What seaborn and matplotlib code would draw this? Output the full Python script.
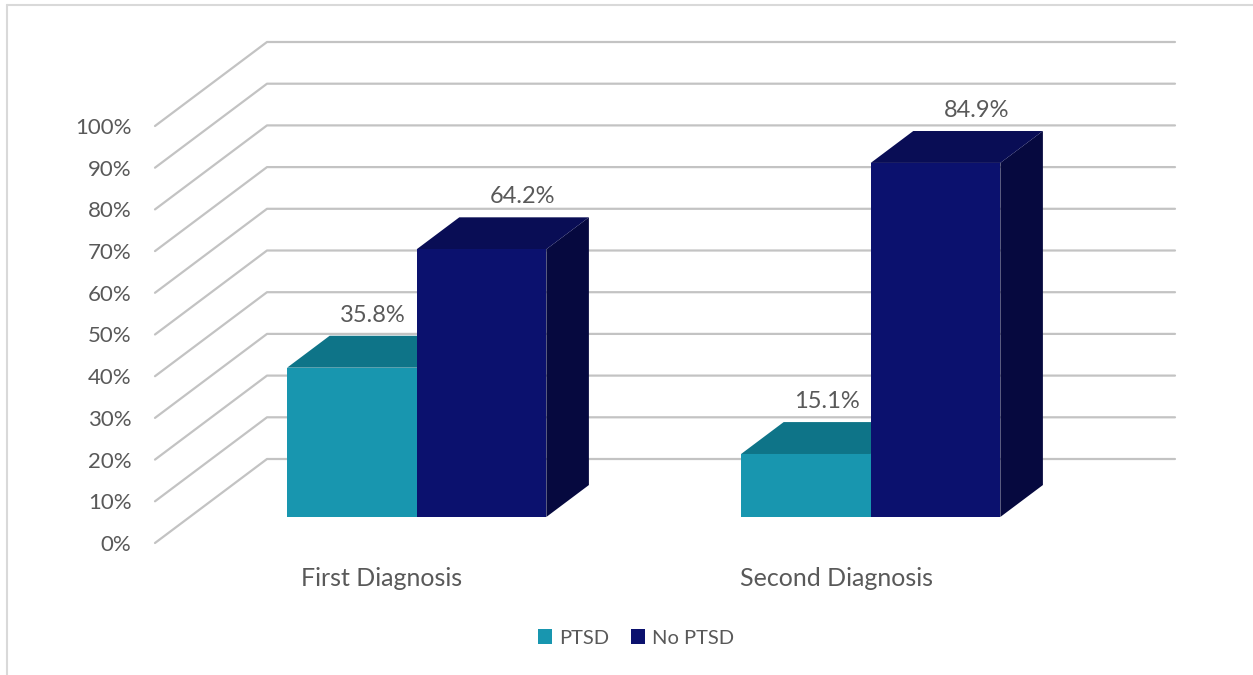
import numpy as np
import pandas as pd
import matplotlib
matplotlib.use("Agg")
import matplotlib.pyplot as plt
import seaborn as sns
from matplotlib.patches import Polygon
from matplotlib.lines import Line2D

# ----------------------------------------------------------
# DATA
# ----------------------------------------------------------

categories = ["First Diagnosis", "Second Diagnosis"]
ptsd = [35.8, 15.1]
no_ptsd = [64.2, 84.9]
series_names = ["PTSD", "No PTSD"]
y_ticks = list(range(0, 101, 10))
y_tick_labels = [f"{v}%" for v in y_ticks]

df = pd.DataFrame({
    "Diagnosis": categories * 2,
    "Group": [series_names[0]] * 2 + [series_names[1]] * 2,
    "Value": ptsd + no_ptsd,
})

# ----------------------------------------------------------
# STYLE
# ----------------------------------------------------------

front_col = {"PTSD": "#1896af", "No PTSD": "#0b116e"}
top_col = {"PTSD": "#0e7488", "No PTSD": "#090d55"}
side_col = {"PTSD": "#0b6677", "No PTSD": "#06093f"}
text_col = "#595959"
grid_col = "#c3c3c3"

sns.set_theme(style="white")
plt.rcParams["font.family"] = ["Lato", "DejaVu Sans"]

W, H = 1253, 675
fig = plt.figure(figsize=(W / 100, H / 100), dpi=100)

# front plane of the 3D box (pixels)
fx0, fx1 = 155, 1063
fy0, fy1 = 543, 126
ax = fig.add_axes([fx0 / W, (H - fy0) / H, (fx1 - fx0) / W, (fy0 - fy1) / H])

sns.barplot(
    data=df, x="Diagnosis", y="Value", hue="Group",
    hue_order=series_names, order=categories,
    palette=front_col, width=0.571, saturation=1,
    legend=True, ax=ax, edgecolor="none", linewidth=0,
)

ax.set_xlim(-0.5, 1.5)
ax.set_ylim(0, 100)

# depth vector (112 px right, 84 px up) in data units
DX = 112 * 2.0 / (fx1 - fx0)
DY = 84 * 100.0 / (fy0 - fy1)
d_front, d_back = 0.31, 0.69

# back wall + side wall gridlines
for v in y_ticks:
    ax.add_line(Line2D(
        [-0.5, -0.5 + DX, 1.5 + DX], [v, v + DY, v + DY],
        color=grid_col, lw=1.6, zorder=0, clip_on=False,
    ))

# ----------------------------------------------------------
# 3D BARS
# ----------------------------------------------------------

bars = []
for name, cont in zip(series_names, ax.containers):
    for p in cont.patches:
        bars.append((p.get_x(), p, name))
bars.sort(key=lambda b: b[0])

for z, (_, p, name) in enumerate(bars):
    x0 = p.get_x()
    x1 = x0 + p.get_width()
    h = p.get_height()

    def pt(x, y, d):
        return (x + d * DX, y + d * DY)

    p.set_x(x0 + d_front * DX)
    p.set_y(d_front * DY)
    p.set_clip_on(False)
    p.set_zorder(3 + z * 3 + 2)

    side = Polygon(
        [pt(x1, 0, d_front), pt(x1, h, d_front), pt(x1, h, d_back), pt(x1, 0, d_back)],
        closed=True, facecolor=side_col[name], edgecolor="none",
        zorder=3 + z * 3, clip_on=False,
    )
    top = Polygon(
        [pt(x0, h, d_front), pt(x1, h, d_front), pt(x1, h, d_back), pt(x0, h, d_back)],
        closed=True, facecolor=top_col[name], edgecolor="none",
        zorder=3 + z * 3 + 1, clip_on=False,
    )
    ax.add_patch(side)
    ax.add_patch(top)

    # data label above the bar
    cx = (x0 + x1) / 2 + (d_front + d_back) / 2 * DX
    nudge = 0 if name == "PTSD" else 14
    ax.annotate(
        f"{h:.1f}%", xy=(cx, h + d_back * DY),
        xytext=(nudge, 10), textcoords="offset points",
        ha="center", va="baseline", fontsize=17, color=text_col,
        annotation_clip=False, zorder=20,
    )

# ----------------------------------------------------------
# AXES / TEXT
# ----------------------------------------------------------

sns.despine(ax=ax, left=True, bottom=True)
ax.set_yticks(y_ticks)
ax.set_yticklabels(y_tick_labels)
ax.tick_params(axis="y", length=0, pad=17, labelsize=16, labelcolor=text_col)
ax.tick_params(axis="x", length=0, pad=17, labelsize=18, labelcolor=text_col)
ax.set_xlabel("")
ax.set_ylabel("")
ax.grid(False)

sns.move_legend(
    ax, "center", bbox_to_anchor=(636 / W, 1 - 638 / H),
    bbox_transform=fig.transFigure, ncol=2, frameon=False, title=None,
    fontsize=14.5, handlelength=0.7, handleheight=0.7,
    handletextpad=0.35, columnspacing=1.1,
)
for t in ax.get_legend().get_texts():
    t.set_color(text_col)

# chart frame (top and left edges visible)
fig.add_artist(Line2D([7 / W, 1.0], [1 - 5 / H, 1 - 5 / H], color="#d9d9d9", lw=1.5))
fig.add_artist(Line2D([7 / W, 7 / W], [0.0, 1 - 5 / H], color="#d9d9d9", lw=1.5))

fig.savefig("out.png", dpi=100)
plt.close(fig)
